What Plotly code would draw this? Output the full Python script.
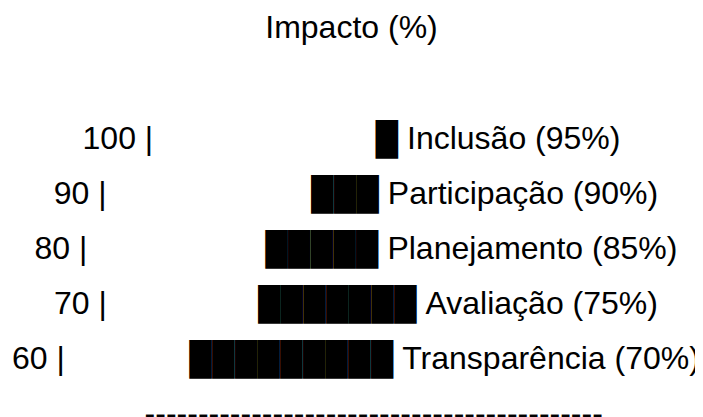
import plotly.graph_objects as go

# ---- data ----
categories = ["Inclusão", "Participação", "Planejamento", "Avaliação", "Transparência"]
values = [95, 90, 85, 75, 70]            # impact in %
blocks = [1, 3, 5, 7, 9]                 # number of █ characters drawn per row
row_labels = [100, 90, 80, 70, 60]       # scale labels at the left of each row
title_text = "Impacto (%)"

# ---- layout constants (not data) ----
gaps = [25, 23, 20, 17, 14]              # spaces between "label |" and the blocks
rule_indent = 5
rule_len = 43
FONT = "Arial, Liberation Sans, sans-serif"
FS = 32
NB = "\u00a0"

lines = []
for lab, gap, n, cat, val in zip(row_labels, gaps, blocks, categories, values):
    s = f"{lab:>3} |" + " " * gap + "█" * n + f" {cat} ({val}%)"
    lines.append(s.replace(" ", NB))

rule_y = row_labels[-1] - (row_labels[0] - row_labels[1])
rule_text = (" " * rule_indent + "-" * rule_len).replace(" ", NB)

fig = go.Figure()
fig.add_trace(go.Scatter(
    x=[0] * len(lines), y=row_labels, mode="text", text=lines,
    textposition="middle center",
    textfont=dict(family=FONT, size=FS, color="#000000"),
    cliponaxis=False, hoverinfo="skip", showlegend=False,
))
fig.add_trace(go.Scatter(
    x=[0], y=[rule_y], mode="text", text=[rule_text],
    textposition="middle center",
    textfont=dict(family=FONT, size=FS, color="#000000"),
    cliponaxis=False, hoverinfo="skip", showlegend=False,
))

fig.update_layout(
    width=703, height=417,
    margin=dict(l=0, r=16, t=0, b=0),
    paper_bgcolor="white", plot_bgcolor="white",
    title=dict(text=title_text, x=343.5 / 703, xanchor="center", xref="container",
               y=1 - 18.8 / 417, yref="container", yanchor="middle",
               font=dict(family=FONT, size=FS, color="#000000")),
    xaxis=dict(range=[-1, 1], visible=False, fixedrange=True),
    yaxis=dict(range=[48.36, 124.18], visible=False, fixedrange=True),
    showlegend=False,
)

fig.write_html("out.html")
